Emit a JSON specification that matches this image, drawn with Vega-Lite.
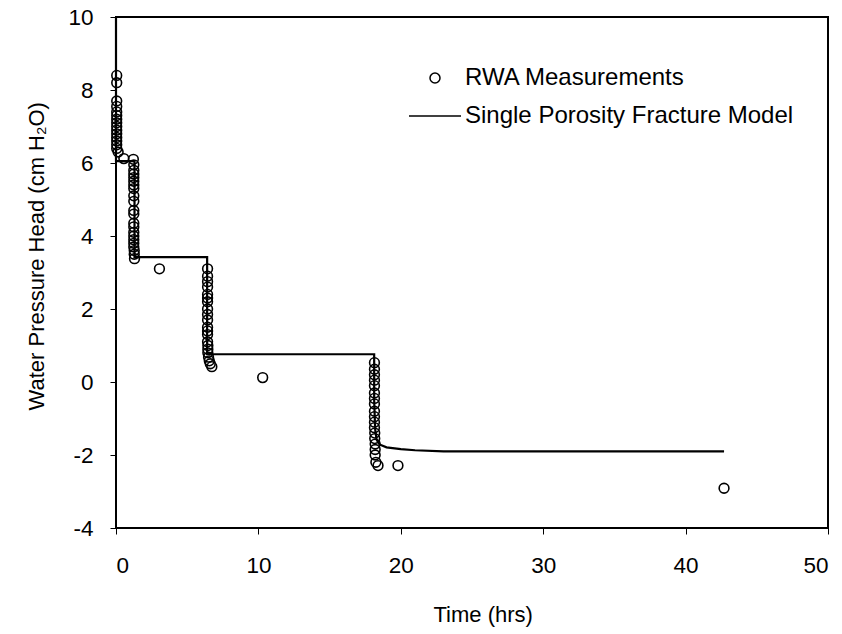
{
  "$schema": "https://vega.github.io/schema/vega-lite/v6.json",
  "width": 712,
  "height": 511,
  "autosize": {"type": "none"},
  "padding": {"left": 116, "top": 17, "right": 14, "bottom": 106},
  "background": "white",
  "config": {
    "font": "Liberation Sans",
    "view": {"stroke": "black", "strokeWidth": 2},
    "axis": {
      "domain": false,
      "grid": false,
      "tickColor": "black",
      "tickWidth": 1,
      "tickSize": 6,
      "labelFont": "Liberation Sans",
      "labelFontSize": 22.5,
      "labelColor": "black",
      "titleFont": "Liberation Sans",
      "titleFontSize": 22,
      "titleFontWeight": "normal",
      "titleColor": "black"
    },
    "legend": {
      "labelFont": "Liberation Sans",
      "labelFontSize": 24,
      "labelColor": "black",
      "labelLimit": 0
    }
  },
  "datasets": {
    "meas": [
      {"t": 0.05, "h": 8.4}, {"t": 0.05, "h": 8.2}, {"t": 0.05, "h": 7.7}, {"t": 0.05, "h": 7.55},
      {"t": 0.05, "h": 7.4}, {"t": 0.05, "h": 7.3}, {"t": 0.05, "h": 7.2}, {"t": 0.05, "h": 7.1},
      {"t": 0.05, "h": 7.0}, {"t": 0.05, "h": 6.9}, {"t": 0.05, "h": 6.8}, {"t": 0.05, "h": 6.7},
      {"t": 0.05, "h": 6.6}, {"t": 0.05, "h": 6.5}, {"t": 0.05, "h": 6.4}, {"t": 0.15, "h": 6.3},
      {"t": 0.55, "h": 6.12},
      {"t": 1.22, "h": 6.1}, {"t": 1.25, "h": 5.95}, {"t": 1.25, "h": 5.8}, {"t": 1.25, "h": 5.7},
      {"t": 1.25, "h": 5.6}, {"t": 1.25, "h": 5.5}, {"t": 1.25, "h": 5.4}, {"t": 1.25, "h": 5.3},
      {"t": 1.25, "h": 5.1}, {"t": 1.25, "h": 4.95}, {"t": 1.25, "h": 4.7}, {"t": 1.25, "h": 4.6},
      {"t": 1.25, "h": 4.35}, {"t": 1.25, "h": 4.25}, {"t": 1.25, "h": 4.1}, {"t": 1.25, "h": 4.0},
      {"t": 1.25, "h": 3.9}, {"t": 1.25, "h": 3.8}, {"t": 1.25, "h": 3.7}, {"t": 1.28, "h": 3.6},
      {"t": 1.28, "h": 3.5}, {"t": 1.3, "h": 3.38},
      {"t": 3.05, "h": 3.1},
      {"t": 6.43, "h": 3.1}, {"t": 6.43, "h": 2.9}, {"t": 6.43, "h": 2.75}, {"t": 6.43, "h": 2.6},
      {"t": 6.43, "h": 2.4}, {"t": 6.43, "h": 2.3}, {"t": 6.43, "h": 2.2}, {"t": 6.43, "h": 2.0},
      {"t": 6.43, "h": 1.85}, {"t": 6.43, "h": 1.7}, {"t": 6.43, "h": 1.5}, {"t": 6.43, "h": 1.4},
      {"t": 6.43, "h": 1.3}, {"t": 6.43, "h": 1.1}, {"t": 6.45, "h": 1.0}, {"t": 6.45, "h": 0.9},
      {"t": 6.45, "h": 0.8}, {"t": 6.5, "h": 0.68}, {"t": 6.55, "h": 0.58}, {"t": 6.62, "h": 0.5},
      {"t": 6.73, "h": 0.42},
      {"t": 10.3, "h": 0.12},
      {"t": 18.15, "h": 0.53}, {"t": 18.15, "h": 0.35}, {"t": 18.15, "h": 0.2}, {"t": 18.15, "h": 0.05},
      {"t": 18.15, "h": -0.1}, {"t": 18.15, "h": -0.3}, {"t": 18.15, "h": -0.45}, {"t": 18.15, "h": -0.6},
      {"t": 18.15, "h": -0.8}, {"t": 18.15, "h": -0.95}, {"t": 18.15, "h": -1.1}, {"t": 18.15, "h": -1.25},
      {"t": 18.17, "h": -1.4}, {"t": 18.17, "h": -1.55}, {"t": 18.2, "h": -1.7}, {"t": 18.2, "h": -1.85},
      {"t": 18.2, "h": -2.0}, {"t": 18.25, "h": -2.2}, {"t": 18.4, "h": -2.29},
      {"t": 19.8, "h": -2.29},
      {"t": 42.7, "h": -2.91}
    ],
    "model": [
      {"i": 0, "t": 0, "h": 10},
      {"i": 1, "t": 0, "h": 6.05},
      {"i": 2, "t": 1.3, "h": 6.05},
      {"i": 3, "t": 1.3, "h": 3.42},
      {"i": 4, "t": 6.4, "h": 3.42},
      {"i": 5, "t": 6.4, "h": 0.76},
      {"i": 6, "t": 18.13, "h": 0.76},
      {"i": 7, "t": 18.13, "h": -0.5},
      {"i": 8, "t": 18.2, "h": -1.3},
      {"i": 9, "t": 18.3, "h": -1.58},
      {"i": 10, "t": 18.5, "h": -1.71},
      {"i": 11, "t": 19.0, "h": -1.79},
      {"i": 12, "t": 20.0, "h": -1.84},
      {"i": 13, "t": 21.0, "h": -1.87},
      {"i": 14, "t": 23.0, "h": -1.9},
      {"i": 15, "t": 42.7, "h": -1.9}
    ]
  },
  "layer": [
    {
      "data": {"name": "model"},
      "mark": {"type": "line", "color": "black", "strokeWidth": 2.2},
      "encoding": {
        "x": {"field": "t", "type": "quantitative"},
        "y": {"field": "h", "type": "quantitative"},
        "order": {"field": "i", "type": "quantitative"}
      }
    },
    {
      "data": {"name": "meas"},
      "transform": [{"calculate": "'RWA Measurements'", "as": "series"}],
      "mark": {"type": "point", "filled": false, "color": "black", "strokeWidth": 1.6, "size": 95, "opacity": 1},
      "encoding": {
        "x": {
          "field": "t", "type": "quantitative",
          "scale": {"domain": [0, 50], "nice": false, "zero": false},
          "axis": {
            "values": [0, 10, 20, 30, 40, 50],
            "title": "Time (hrs)",
            "labelPadding": 20,
            "labelExpr": "replace(datum.label, '\u2212', '-')",
            "titleX": 317, "titleAlign": "left", "titleAnchor": null,
            "titleY": 93, "titleBaseline": "alphabetic"
          }
        },
        "y": {
          "field": "h", "type": "quantitative",
          "scale": {"domain": [-4, 10], "nice": false, "zero": false},
          "axis": {
            "values": [-4, -2, 0, 2, 4, 6, 8, 10],
            "title": "Water Pressure Head (cm H₂O)",
            "labelPadding": 17,
            "labelExpr": "replace(datum.label, '\u2212', '-')",
            "titleAngle": -90,
            "titleX": -73, "titleY": 393, "titleAlign": "left", "titleAnchor": null,
            "titleBaseline": "alphabetic"
          }
        },
        "shape": {
          "field": "series", "type": "nominal",
          "scale": {
            "domain": ["RWA Measurements", "Single Porosity Fracture Model"],
            "range": ["circle", "M-5.2,0H5.2"]
          },
          "legend": {
            "title": null,
            "orient": "none",
            "legendX": 307,
            "legendY": 49,
            "symbolSize": 100,
            "symbolStrokeColor": "black",
            "symbolFillColor": "transparent",
            "labelOffset": 18,
            "rowPadding": 14,
            "labelLimit": 0,
            "encode": {
              "symbols": {
                "update": {
                  "strokeWidth": {"signal": "datum.value === 'Single Porosity Fracture Model' ? 2.2 : 1.6"}
                }
              }
            }
          }
        }
      }
    }
  ]
}
